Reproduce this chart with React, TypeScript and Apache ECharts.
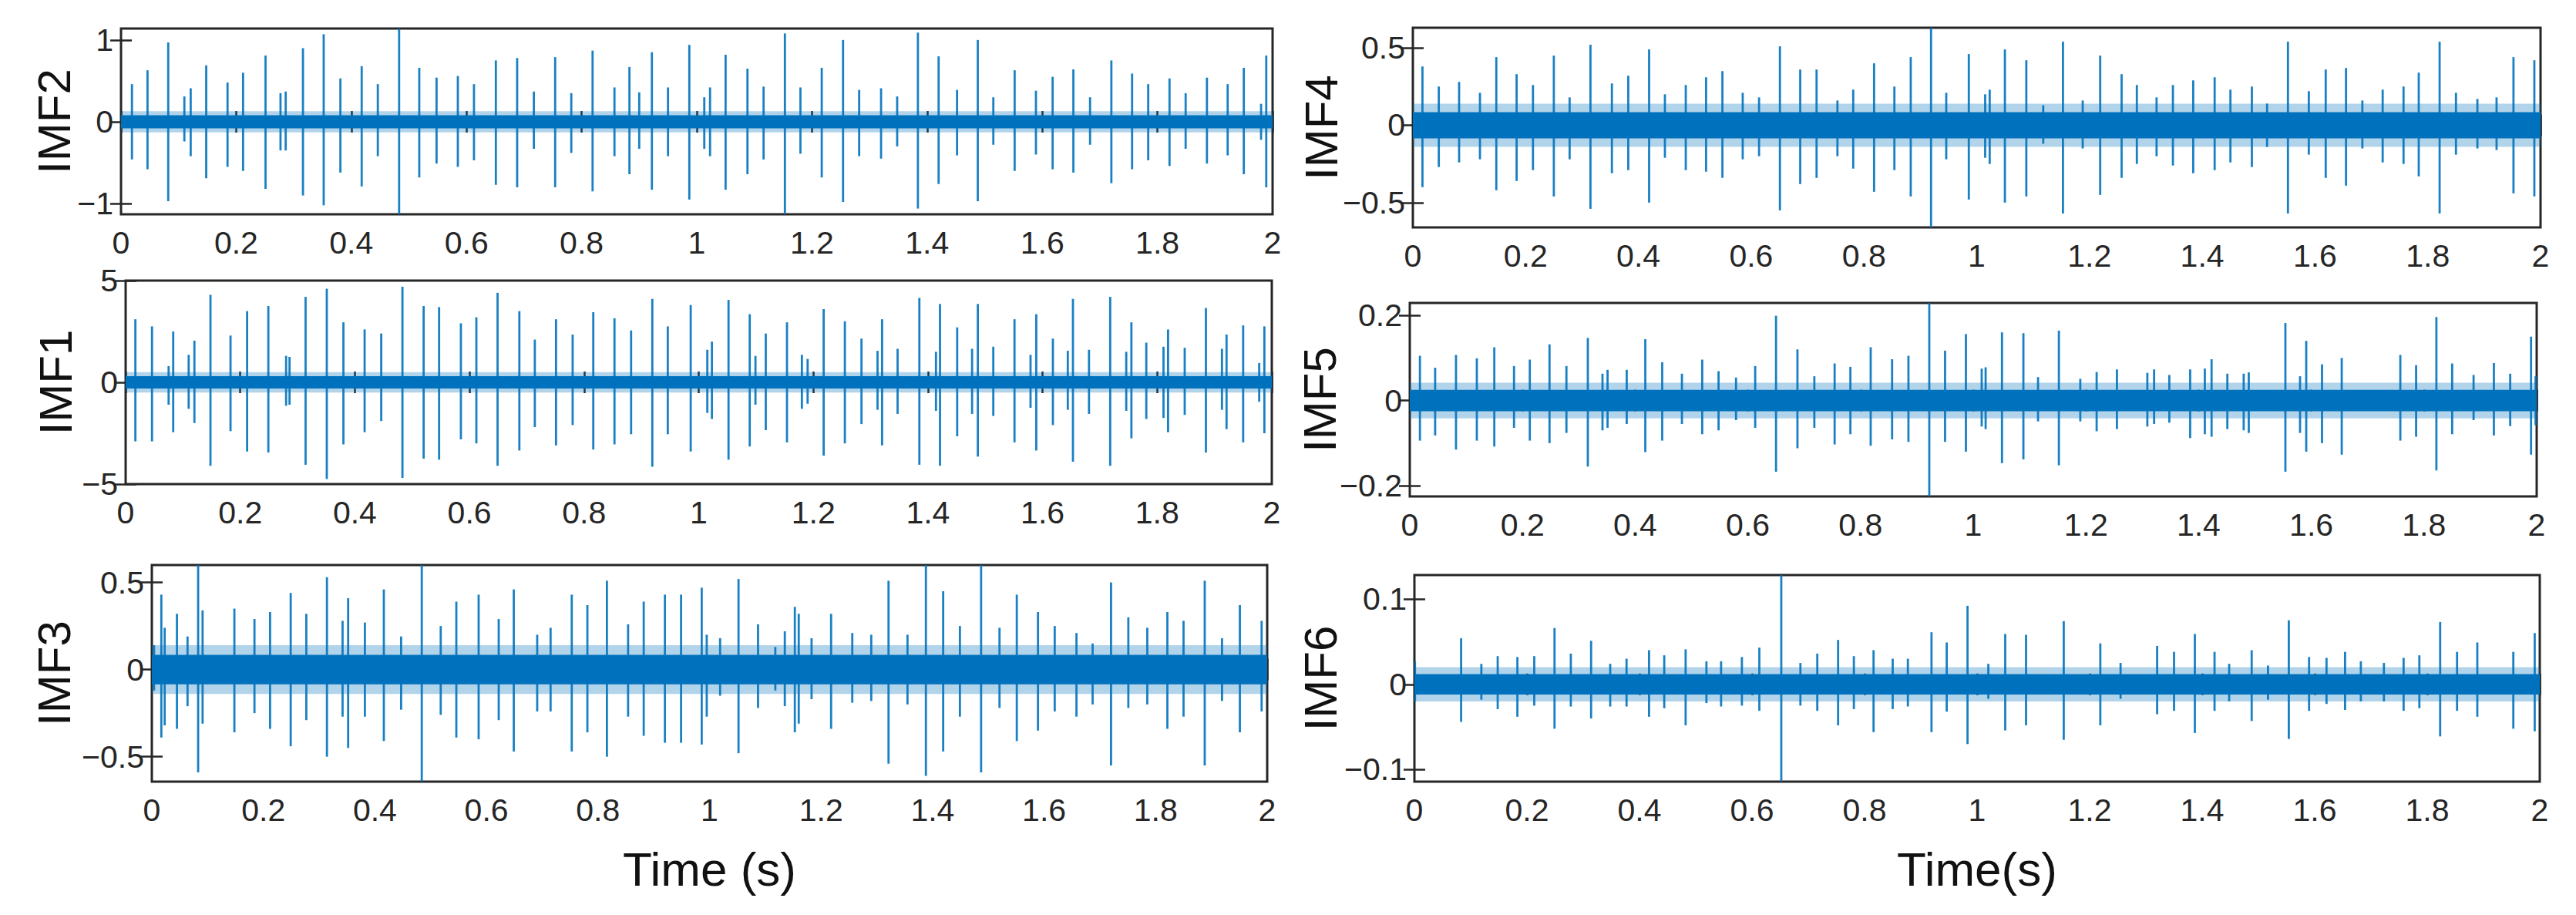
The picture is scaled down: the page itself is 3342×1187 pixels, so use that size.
import React, { useEffect, useRef } from "react";
import * as echarts from "echarts";

// ---------------- data ----------------
// each spike: [time (s), upper peak, lower peak]
const imf2Spikes: number[][] = [
  [0.019, 0.46, -0.46], [0.046, 0.63, -0.58], [0.082, 0.97, -0.97], [0.11, 0.31, -0.24], [0.121, 0.41, -0.42],
  [0.148, 0.69, -0.69], [0.185, 0.48, -0.55], [0.212, 0.6, -0.6], [0.251, 0.81, -0.82], [0.277, 0.35, -0.35],
  [0.286, 0.37, -0.35], [0.316, 0.9, -0.9], [0.352, 1.07, -1.02], [0.381, 0.53, -0.62], [0.418, 0.68, -0.79],
  [0.446, 0.46, -0.42], [0.483, 1.14, -1.13], [0.518, 0.66, -0.68], [0.548, 0.54, -0.51], [0.585, 0.56, -0.55],
  [0.613, 0.46, -0.47], [0.651, 0.75, -0.77], [0.688, 0.78, -0.8], [0.717, 0.37, -0.33], [0.754, 0.79, -0.8],
  [0.782, 0.35, -0.38], [0.819, 0.87, -0.85], [0.857, 0.42, -0.42], [0.883, 0.67, -0.64], [0.9, 0.36, -0.33],
  [0.922, 0.85, -0.83], [0.95, 0.42, -0.42], [0.987, 0.94, -0.95], [1.013, 0.3, -0.33], [1.023, 0.42, -0.42],
  [1.05, 0.82, -0.83], [1.088, 0.65, -0.64], [1.116, 0.43, -0.46], [1.153, 1.08, -1.13], [1.18, 0.42, -0.39],
  [1.217, 0.66, -0.68], [1.254, 1.0, -0.98], [1.282, 0.39, -0.42], [1.32, 0.41, -0.45], [1.348, 0.31, -0.3],
  [1.384, 1.09, -1.06], [1.42, 0.8, -0.76], [1.452, 0.39, -0.41], [1.488, 1.0, -0.97], [1.515, 0.3, -0.28],
  [1.552, 0.63, -0.6], [1.589, 0.38, -0.4], [1.618, 0.55, -0.58], [1.654, 0.64, -0.62], [1.683, 0.3, -0.28],
  [1.72, 0.75, -0.75], [1.756, 0.59, -0.58], [1.784, 0.46, -0.47], [1.821, 0.53, -0.54], [1.849, 0.35, -0.33],
  [1.886, 0.54, -0.51], [1.922, 0.46, -0.41], [1.95, 0.66, -0.64], [1.98, 0.22, -0.22], [1.989, 0.81, -0.8],
];

const imf1Spikes: number[][] = [
  [0.017, 3.1, -2.9], [0.046, 2.75, -2.9], [0.075, 0.8, -1.1], [0.083, 2.5, -2.45], [0.11, 1.35, -1.3],
  [0.12, 2.05, -2.0], [0.148, 4.3, -4.1], [0.183, 2.3, -2.4], [0.212, 3.5, -3.4], [0.249, 3.75, -3.45],
  [0.28, 1.3, -1.15], [0.286, 1.25, -1.1], [0.314, 4.2, -4.05], [0.351, 4.6, -4.75], [0.38, 2.95, -3.05],
  [0.417, 2.6, -2.45], [0.446, 2.4, -1.9], [0.483, 4.7, -4.7], [0.52, 3.75, -3.75], [0.547, 3.7, -3.8],
  [0.585, 2.9, -2.8], [0.612, 3.2, -3.0], [0.649, 4.4, -4.1], [0.687, 3.5, -3.35], [0.714, 2.1, -2.2],
  [0.751, 3.1, -3.1], [0.78, 2.35, -2.1], [0.816, 3.45, -3.3], [0.853, 3.15, -3.05], [0.882, 2.55, -2.55],
  [0.919, 4.1, -4.15], [0.946, 2.75, -2.55], [0.986, 3.8, -3.4], [1.015, 1.6, -1.5], [1.023, 2.0, -1.8],
  [1.052, 4.05, -3.8], [1.089, 3.35, -3.15], [1.099, 1.3, -1.1], [1.117, 2.4, -2.35], [1.154, 2.95, -2.95],
  [1.18, 1.35, -1.3], [1.19, 1.15, -1.05], [1.218, 3.6, -3.6], [1.255, 3.0, -3.0], [1.284, 2.15, -2.05],
  [1.312, 1.55, -1.35], [1.32, 3.1, -3.1], [1.347, 1.65, -1.55], [1.385, 4.15, -4.05], [1.414, 1.5, -1.4],
  [1.421, 3.85, -4.1], [1.451, 2.7, -2.65], [1.477, 1.65, -1.55], [1.487, 3.85, -3.65], [1.514, 1.75, -1.65],
  [1.551, 3.1, -2.95], [1.579, 1.35, -1.25], [1.589, 3.35, -3.35], [1.618, 2.15, -2.1], [1.644, 1.55, -1.35],
  [1.653, 4.1, -3.9], [1.681, 1.6, -1.55], [1.718, 4.2, -4.1], [1.746, 1.5, -1.4], [1.755, 2.95, -2.75],
  [1.781, 1.95, -1.8], [1.811, 1.75, -1.75], [1.819, 2.6, -2.45], [1.848, 1.7, -1.6], [1.885, 3.65, -3.45],
  [1.913, 1.65, -1.35], [1.921, 2.35, -2.3], [1.95, 2.8, -2.95], [1.978, 0.95, -0.95], [1.987, 2.75, -2.5],
];

const imf3Spikes: number[][] = [
  [0.004, 0.14, -0.12], [0.017, 0.43, -0.39], [0.023, 0.24, -0.32], [0.045, 0.32, -0.34], [0.064, 0.19, -0.21],
  [0.083, 0.6, -0.59], [0.091, 0.34, -0.31], [0.148, 0.35, -0.36], [0.184, 0.29, -0.25], [0.212, 0.33, -0.34],
  [0.249, 0.44, -0.44], [0.277, 0.32, -0.29], [0.314, 0.53, -0.5], [0.342, 0.28, -0.27], [0.352, 0.41, -0.45],
  [0.382, 0.27, -0.27], [0.416, 0.46, -0.41], [0.447, 0.19, -0.23], [0.484, 0.6, -0.643], [0.518, 0.25, -0.26],
  [0.546, 0.39, -0.39], [0.586, 0.43, -0.4], [0.622, 0.29, -0.29], [0.649, 0.46, -0.47], [0.691, 0.2, -0.24],
  [0.715, 0.24, -0.24], [0.753, 0.43, -0.47], [0.781, 0.37, -0.36], [0.816, 0.51, -0.5], [0.854, 0.26, -0.27],
  [0.882, 0.39, -0.38], [0.92, 0.43, -0.42], [0.949, 0.43, -0.42], [0.986, 0.47, -0.43], [0.995, 0.2, -0.27],
  [1.019, 0.18, -0.15], [1.052, 0.52, -0.48], [1.087, 0.26, -0.22], [1.118, 0.13, -0.12], [1.135, 0.22, -0.21],
  [1.153, 0.36, -0.36], [1.16, 0.32, -0.31], [1.183, 0.18, -0.17], [1.218, 0.32, -0.34], [1.256, 0.21, -0.19],
  [1.29, 0.2, -0.18], [1.321, 0.51, -0.54], [1.355, 0.2, -0.2], [1.388, 0.6, -0.61], [1.419, 0.45, -0.47],
  [1.449, 0.25, -0.27], [1.487, 0.6, -0.59], [1.52, 0.24, -0.22], [1.551, 0.43, -0.41], [1.589, 0.33, -0.35],
  [1.619, 0.25, -0.24], [1.658, 0.21, -0.27], [1.687, 0.15, -0.2], [1.72, 0.5, -0.55], [1.751, 0.3, -0.22],
  [1.785, 0.24, -0.2], [1.821, 0.33, -0.34], [1.85, 0.28, -0.27], [1.888, 0.51, -0.55], [1.919, 0.18, -0.18],
  [1.951, 0.37, -0.36], [1.99, 0.28, -0.24],
];

const imf4Spikes: number[][] = [
  [0.017, 0.38, -0.4], [0.046, 0.25, -0.27], [0.082, 0.28, -0.24], [0.119, 0.21, -0.22], [0.148, 0.44, -0.42],
  [0.184, 0.33, -0.36], [0.213, 0.26, -0.29], [0.25, 0.45, -0.46], [0.278, 0.18, -0.22], [0.315, 0.52, -0.54],
  [0.353, 0.27, -0.31], [0.382, 0.32, -0.29], [0.419, 0.49, -0.5], [0.447, 0.2, -0.21], [0.484, 0.26, -0.29],
  [0.52, 0.31, -0.3], [0.549, 0.35, -0.34], [0.585, 0.21, -0.22], [0.614, 0.18, -0.2], [0.651, 0.51, -0.55],
  [0.687, 0.36, -0.38], [0.716, 0.36, -0.34], [0.753, 0.16, -0.2], [0.781, 0.23, -0.28], [0.818, 0.4, -0.43],
  [0.854, 0.25, -0.29], [0.883, 0.44, -0.46], [0.919, 0.63, -0.66], [0.946, 0.21, -0.22], [0.986, 0.46, -0.48],
  [1.015, 0.2, -0.21], [1.023, 0.23, -0.25], [1.05, 0.49, -0.5], [1.088, 0.42, -0.46], [1.118, 0.13, -0.12],
  [1.153, 0.54, -0.57], [1.188, 0.16, -0.15], [1.219, 0.45, -0.45], [1.257, 0.33, -0.34], [1.284, 0.26, -0.25],
  [1.319, 0.18, -0.2], [1.348, 0.26, -0.26], [1.384, 0.29, -0.31], [1.422, 0.31, -0.29], [1.45, 0.23, -0.24],
  [1.488, 0.25, -0.27], [1.515, 0.14, -0.14], [1.552, 0.54, -0.57], [1.589, 0.22, -0.19], [1.619, 0.36, -0.34],
  [1.655, 0.37, -0.39], [1.684, 0.16, -0.15], [1.72, 0.23, -0.24], [1.757, 0.25, -0.25], [1.784, 0.34, -0.33],
  [1.821, 0.54, -0.57], [1.85, 0.21, -0.19], [1.888, 0.17, -0.15], [1.922, 0.18, -0.16], [1.952, 0.44, -0.44],
  [1.989, 0.42, -0.46],
];

const imf5Spikes: number[][] = [
  [0.018, 0.105, -0.094], [0.045, 0.077, -0.082], [0.082, 0.107, -0.115], [0.119, 0.099, -0.094], [0.15, 0.125, -0.108],
  [0.185, 0.081, -0.064], [0.213, 0.096, -0.094], [0.248, 0.132, -0.1], [0.278, 0.081, -0.076], [0.316, 0.147, -0.155],
  [0.342, 0.063, -0.07], [0.351, 0.072, -0.064], [0.385, 0.072, -0.055], [0.418, 0.144, -0.121], [0.448, 0.09, -0.094],
  [0.483, 0.063, -0.055], [0.519, 0.096, -0.079], [0.548, 0.069, -0.07], [0.579, 0.054, -0.046], [0.613, 0.081, -0.064],
  [0.65, 0.199, -0.167], [0.688, 0.12, -0.112], [0.718, 0.057, -0.064], [0.754, 0.087, -0.103], [0.782, 0.079, -0.079],
  [0.818, 0.125, -0.106], [0.856, 0.097, -0.091], [0.885, 0.105, -0.097], [0.922, 0.229, -0.225], [0.95, 0.117, -0.097],
  [0.987, 0.156, -0.12], [1.015, 0.075, -0.061], [1.022, 0.078, -0.067], [1.051, 0.16, -0.147], [1.089, 0.158, -0.138],
  [1.115, 0.055, -0.049], [1.152, 0.164, -0.152], [1.19, 0.051, -0.049], [1.219, 0.067, -0.072], [1.255, 0.073, -0.067],
  [1.309, 0.065, -0.061], [1.321, 0.073, -0.055], [1.348, 0.06, -0.052], [1.385, 0.073, -0.088], [1.411, 0.075, -0.079],
  [1.423, 0.097, -0.085], [1.451, 0.063, -0.067], [1.48, 0.063, -0.07], [1.489, 0.066, -0.076], [1.554, 0.182, -0.167],
  [1.58, 0.057, -0.076], [1.591, 0.14, -0.12], [1.619, 0.085, -0.1], [1.654, 0.1, -0.127], [1.758, 0.107, -0.094],
  [1.786, 0.083, -0.085], [1.822, 0.196, -0.164], [1.85, 0.087, -0.079], [1.888, 0.06, -0.046], [1.924, 0.088, -0.082],
  [1.953, 0.063, -0.06], [1.99, 0.15, -0.127], [1.998, 0.057, -0.058],
];

const imf6Spikes: number[][] = [
  [0.001, 0.027, -0.02], [0.083, 0.054, -0.044], [0.119, 0.024, -0.018], [0.148, 0.033, -0.029], [0.183, 0.032, -0.038],
  [0.213, 0.033, -0.025], [0.249, 0.066, -0.052], [0.278, 0.036, -0.026], [0.314, 0.051, -0.04], [0.348, 0.024, -0.026],
  [0.377, 0.03, -0.026], [0.417, 0.04, -0.038], [0.444, 0.034, -0.028], [0.482, 0.041, -0.048], [0.519, 0.027, -0.022],
  [0.545, 0.027, -0.026], [0.582, 0.032, -0.025], [0.613, 0.043, -0.031], [0.652, 0.128, -0.114], [0.686, 0.025, -0.025],
  [0.716, 0.036, -0.031], [0.753, 0.052, -0.048], [0.781, 0.033, -0.029], [0.816, 0.04, -0.056], [0.85, 0.03, -0.029],
  [0.877, 0.03, -0.026], [0.919, 0.061, -0.056], [0.946, 0.049, -0.032], [0.983, 0.092, -0.07], [1.02, 0.024, -0.017],
  [1.05, 0.059, -0.054], [1.087, 0.058, -0.048], [1.154, 0.074, -0.065], [1.219, 0.048, -0.048], [1.255, 0.025, -0.017],
  [1.32, 0.045, -0.035], [1.35, 0.038, -0.031], [1.387, 0.059, -0.057], [1.422, 0.038, -0.031], [1.448, 0.024, -0.02],
  [1.488, 0.04, -0.043], [1.517, 0.022, -0.018], [1.554, 0.075, -0.064], [1.59, 0.032, -0.031], [1.621, 0.031, -0.023],
  [1.654, 0.038, -0.03], [1.682, 0.027, -0.02], [1.723, 0.025, -0.02], [1.758, 0.031, -0.031], [1.786, 0.034, -0.028],
  [1.823, 0.073, -0.061], [1.853, 0.038, -0.031], [1.889, 0.049, -0.038], [1.953, 0.038, -0.052], [1.991, 0.06, -0.055],
];

// noise band half-widths: [outer fuzz, dense core]
const imf2Band = [0.13, 0.08];
const imf1Band = [0.5, 0.3];
const imf3Band = [0.14, 0.085];
const imf4Band = [0.14, 0.085];
const imf5Band = [0.042, 0.025];
const imf6Band = [0.02, 0.012];

// y-axis limits and tick labels
const imf2Range = [-1.13, 1.14];
const imf1Range = [-5, 5];
const imf3Range = [-0.643, 0.6];
const imf4Range = [-0.66, 0.63];
const imf5Range = [-0.225, 0.229];
const imf6Range = [-0.114, 0.128];

const imf2Ticks = [-1, 0, 1];
const imf1Ticks = [-5, 0, 5];
const imf3Ticks = [-0.5, 0, 0.5];
const imf4Ticks = [-0.5, 0, 0.5];
const imf5Ticks = [-0.2, 0, 0.2];
const imf6Ticks = [-0.1, 0, 0.1];

const timeMin = 0;
const timeMax = 2;
const timeStep = 0.2;

const panelNames = ["IMF2", "IMF1", "IMF3", "IMF4", "IMF5", "IMF6"];
const xTitles = ["Time (s)", "Time(s)"];

// ---------------- layout / style ----------------
const W = 3342;
const H = 1187;
const BLUE = "#0072BD";
const INK = "#262626";
const SANS = "'Liberation Sans', Arial, sans-serif";

const layout = [
  { left: 157, top: 37, right: 1651, bottom: 278, labelX: 70 },
  { left: 163, top: 364, right: 1650, bottom: 628, labelX: 72 },
  { left: 197, top: 733, right: 1644, bottom: 1014, labelX: 70 },
  { left: 1833, top: 36, right: 3296, bottom: 295, labelX: 1714 },
  { left: 1829, top: 393, right: 3291, bottom: 644, labelX: 1712 },
  { left: 1835, top: 746, right: 3295, bottom: 1014, labelX: 1713 },
];

const panels = [
  { spikes: imf2Spikes, band: imf2Band, range: imf2Range, ticks: imf2Ticks },
  { spikes: imf1Spikes, band: imf1Band, range: imf1Range, ticks: imf1Ticks },
  { spikes: imf3Spikes, band: imf3Band, range: imf3Range, ticks: imf3Ticks },
  { spikes: imf4Spikes, band: imf4Band, range: imf4Range, ticks: imf4Ticks },
  { spikes: imf5Spikes, band: imf5Band, range: imf5Range, ticks: imf5Ticks },
  { spikes: imf6Spikes, band: imf6Band, range: imf6Range, ticks: imf6Ticks },
];

const fmtY = (v: number) => (v < 0 ? "\u2212" + String(+(-v).toFixed(3)) : String(+v.toFixed(3)));

function buildOption() {
  const grid: any[] = [];
  const xAxis: any[] = [];
  const yAxis: any[] = [];
  const series: any[] = [];
  const graphic: any[] = [];

  panels.forEach((p, i) => {
    const L = layout[i];
    grid.push({
      left: L.left,
      top: L.top,
      width: L.right - L.left,
      height: L.bottom - L.top,
      show: true,
      borderColor: INK,
      borderWidth: 3,
      backgroundColor: "#fff",
      containLabel: false,
    });
    const tickStyle = { color: INK, width: 2.5 };
    xAxis.push({
      gridIndex: i,
      type: "value",
      position: "bottom",
      min: timeMin,
      max: timeMax,
      interval: timeStep,
      axisLine: { show: false },
      axisTick: { show: true, inside: true, length: 14, lineStyle: tickStyle },
      axisLabel: { show: true, margin: 16, fontSize: 41, fontFamily: SANS, color: INK, showMinLabel: true, showMaxLabel: true },
      splitLine: { show: false },
    });
    xAxis.push({
      gridIndex: i,
      type: "value",
      position: "top",
      min: timeMin,
      max: timeMax,
      interval: timeStep,
      axisLine: { show: false },
      axisTick: { show: true, inside: true, length: 14, lineStyle: tickStyle },
      axisLabel: { show: false },
      splitLine: { show: false },
    });
    yAxis.push({
      gridIndex: i,
      type: "value",
      position: "left",
      min: p.range[0],
      max: p.range[1],
      axisLine: { show: false },
      axisTick: { show: true, inside: true, length: 14, lineStyle: tickStyle, customValues: p.ticks },
      axisLabel: {
        show: true,
        margin: 10,
        fontSize: 41,
        fontFamily: SANS,
        color: INK,
        customValues: p.ticks,
        formatter: (v: number) => fmtY(v),
      },
      splitLine: { show: false },
    });
    yAxis.push({
      gridIndex: i,
      type: "value",
      position: "right",
      min: p.range[0],
      max: p.range[1],
      axisLine: { show: false },
      axisTick: { show: true, inside: true, length: 14, lineStyle: tickStyle, customValues: p.ticks },
      axisLabel: { show: false, customValues: p.ticks },
      splitLine: { show: false },
    });

    // noise band (outer fuzz + dense core)
    series.push({
      type: "custom",
      xAxisIndex: 2 * i,
      yAxisIndex: 2 * i,
      silent: true,
      clip: true,
      data: p.band.map((h) => [timeMin, timeMax, h]),
      encode: { x: [0, 1], y: 2 },
      renderItem: (params: any, api: any) => {
        const h = api.value(2);
        const a = api.coord([api.value(0), h]);
        const b = api.coord([api.value(1), -h]);
        return {
          type: "rect",
          shape: { x: a[0], y: a[1], width: b[0] - a[0], height: b[1] - a[1] },
          style: { fill: BLUE, opacity: params.dataIndex === 0 ? 0.3 : 1 },
        };
      },
    });
    // spikes
    series.push({
      type: "custom",
      xAxisIndex: 2 * i,
      yAxisIndex: 2 * i,
      silent: true,
      clip: true,
      data: p.spikes,
      encode: { x: 0, y: [1, 2] },
      renderItem: (params: any, api: any) => {
        const t = api.value(0);
        const a = api.coord([t, api.value(1)]);
        const b = api.coord([t, api.value(2)]);
        return {
          type: "line",
          shape: { x1: a[0], y1: a[1], x2: b[0], y2: b[1] },
          style: { stroke: BLUE, lineWidth: 2.8, opacity: 0.9 },
        };
      },
    });

    graphic.push({
      type: "text",
      x: L.labelX,
      y: (L.top + L.bottom) / 2,
      rotation: Math.PI / 2,
      style: {
        text: panelNames[i],
        fontSize: 60,
        fontFamily: SANS,
        fill: "#111",
        align: "center",
        verticalAlign: "middle",
      },
    });
  });

  // x-axis titles, centred under each column
  graphic.push({
    type: "text",
    x: (layout[2].left + layout[2].right) / 2,
    y: 1127,
    style: { text: xTitles[0], fontSize: 62, fontFamily: SANS, fill: "#111", align: "center", verticalAlign: "middle" },
  });
  graphic.push({
    type: "text",
    x: (layout[5].left + layout[5].right) / 2,
    y: 1127,
    style: { text: xTitles[1], fontSize: 62, fontFamily: SANS, fill: "#111", align: "center", verticalAlign: "middle" },
  });

  return {
    animation: false,
    backgroundColor: "#ffffff",
    grid,
    xAxis,
    yAxis,
    series,
    graphic,
  };
}

export default function App() {
  const ref = useRef<HTMLDivElement>(null);
  useEffect(() => {
    document.body.style.margin = "0";
    document.body.style.overflow = "hidden";
    if (!ref.current) return;
    const chart = echarts.init(ref.current, undefined, { renderer: "svg", width: W, height: H });
    chart.setOption(buildOption() as any);
    return () => chart.dispose();
  }, []);
  return <div ref={ref} style={{ position: "absolute", left: 0, top: 0, width: W, height: H, background: "#fff" }} />;
}
